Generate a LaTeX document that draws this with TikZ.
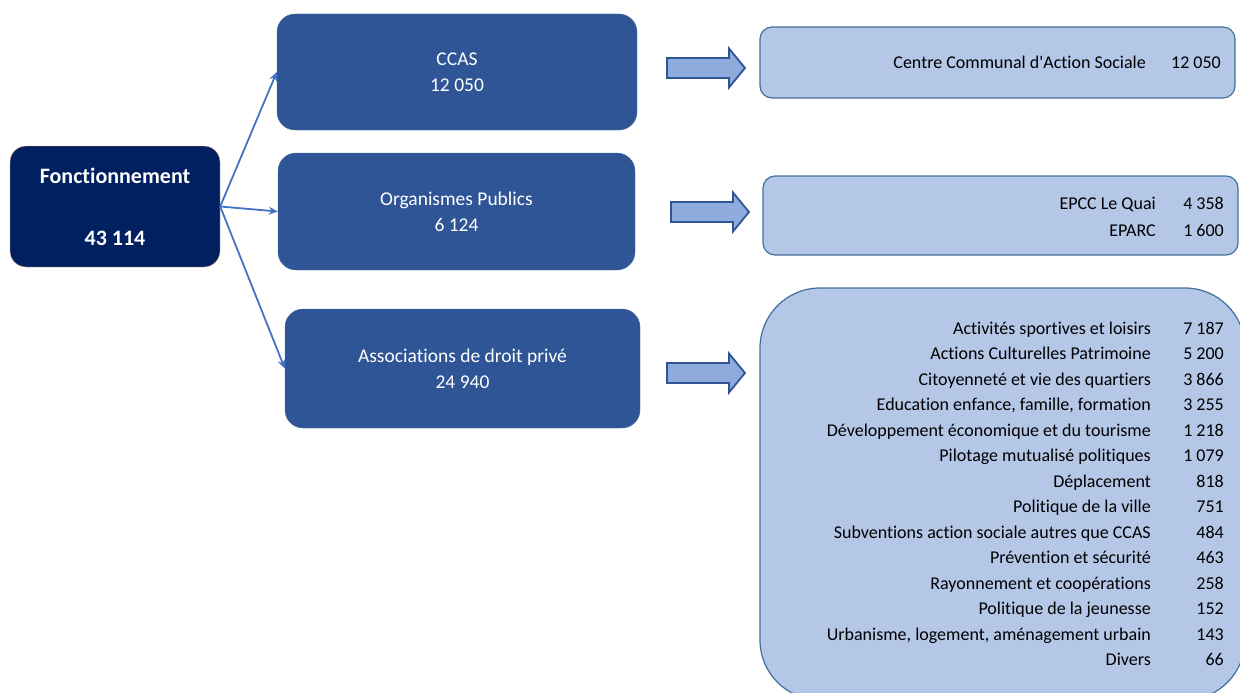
\documentclass[tikz,border=0pt]{standalone}
\usepackage{fontspec}
\setmainfont{Carlito}[Ligatures={NoCommon}]
\usetikzlibrary{arrows.meta}

\definecolor{navyblue}{HTML}{002060}
\definecolor{midblue}{HTML}{2F5597}
\definecolor{edgeblue}{HTML}{41719C}
\definecolor{paleblue}{HTML}{B4C7E7}
\definecolor{arrowfill}{HTML}{8FAADC}
\definecolor{linkblue}{HTML}{4472C4}
\definecolor{peach}{HTML}{F4B183}

\tikzset{
  topbox/.style={draw=peach, fill=navyblue, text=white, rounded corners=16pt,
    minimum width=210pt, minimum height=121pt, align=center,
    font=\fontsize{22}{31}\selectfont\bfseries},
  groupbox/.style={draw=edgeblue, fill=midblue, text=white, rounded corners=18pt,
    align=center, font=\fontsize{19.5}{26}\selectfont},
  detailbox/.style={draw=edgeblue, line width=1.2pt, fill=paleblue, rounded corners=12pt},
  listtext/.style={anchor=base east, inner sep=0pt, font=\fontsize{18}{22}\selectfont},
  link/.style={linkblue, line width=1.8pt, -{Stealth[length=9pt,width=8pt]}},
  barrow/.style={draw=midblue, line width=1.8pt, fill=arrowfill, line join=miter},
}

% block arrow pointing right, tail centre given
\newcommand\bigarrow[1]{%
  \draw[barrow] (#1) ++(0,-10) -- ++(62,0) -- ++(0,-9.5) -- ++(16,19.5)
    -- ++(-16,19.5) -- ++(0,-9.5) -- ++(-62,0) -- cycle;}

\begin{document}
\begin{tikzpicture}[x=1pt, y=-1pt]
    \clip (0,0) rectangle (1240,693);

    % Total
    \node[topbox] (fonct) at (115,206.5) {Fonctionnement\\[31pt]43~114};

    % Groups
    \node[groupbox, minimum width=360pt, minimum height=116pt] (ccas) at (457,72) {CCAS\\12~050};
    \node[groupbox, minimum width=357pt, minimum height=117pt] (orga) at (456.5,211.5) {Organismes Publics\\6~124};
    \node[groupbox, minimum width=355pt, minimum height=119pt] (asso) at (462.5,368.5) {Associations de droit privé\\24~940};

    % Links
    \draw[link] (fonct.east) -- (ccas.west);
    \draw[link] (fonct.east) -- (orga.west);
    \draw[link] (fonct.east) -- (asso.west);

    % Block arrows
    \coordinate (a1) at (667,68);
    \coordinate (a2) at (671,212);
    \coordinate (a3) at (667,373);
    \bigarrow{a1}
    \bigarrow{a2}
    \bigarrow{a3}

    % CCAS detail
    \node[detailbox, minimum width=475pt, minimum height=71pt] (ccasd) at (997.5,62.5) {};
    \node[listtext] (ccasl) at (1146,69) {Centre Communal d\textquotesingle Action Sociale};
    \node[listtext] (ccasn) at (1221,69) {12~050};

    % Organismes detail
    \node[detailbox, minimum width=475pt, minimum height=79pt] (orgad) at (1000.5,215.5) {};
    \node[listtext] (quail) at (1156,209) {EPCC Le Quai};
    \node[listtext] (quain) at (1224,209) {4~358};
    \node[listtext] (eparcl) at (1156,236) {EPARC};
    \node[listtext] (eparcn) at (1224,236) {1~600};

    % Associations detail
    \node[detailbox, rounded corners=60pt, minimum width=485pt, minimum height=412pt] (assod) at (1002.5,494) {};
    \foreach \lab/\val [count=\i] in {
        Activités sportives et loisirs/7~187,
        Actions Culturelles Patrimoine/5~200,
        Citoyenneté et vie des quartiers/3~866,
        {Education enfance, famille, formation}/3~255,
        Développement économique et du tourisme/1~218,
        Pilotage mutualisé politiques/1~079,
        Déplacement/818,
        Politique de la ville/751,
        Subventions action sociale autres que CCAS/484,
        Prévention et sécurité/463,
        Rayonnement et coopérations/258,
        Politique de la jeunesse/152,
        {Urbanisme, logement, aménagement urbain}/143,
        Divers/66} {
      \node[listtext] (lab\i) at (1151,{308.5+25.5*\i}) {\lab};
      \node[listtext] (val\i) at (1224,{308.5+25.5*\i}) {\val};
    }
\end{tikzpicture}
\end{document}
